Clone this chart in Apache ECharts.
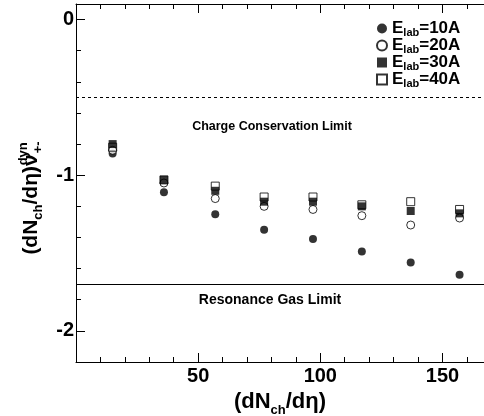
<!DOCTYPE html>
<html>
<head>
<meta charset="utf-8">
<script src="https://cdn.jsdelivr.net/npm/echarts@6/dist/echarts.min.js"></script>
<style>
html, body { margin: 0; padding: 0; background: #fff; }
#chart { width: 484px; height: 416px; }
</style>
</head>
<body>
<div id="chart"></div>
<script>
// dN_ch/deta bins
var xValues = [15, 36, 57, 77, 97, 117, 137, 157];
var e10 = [-0.86, -1.11, -1.25, -1.35, -1.41, -1.49, -1.56, -1.64];
var e20 = [-0.84, -1.05, -1.15, -1.20, -1.22, -1.26, -1.32, -1.275];
var e30 = [-0.80, -1.03, -1.10, -1.17, -1.17, -1.20, -1.23, -1.245];
var e40 = [-0.82, -1.03, -1.07, -1.14, -1.14, -1.19, -1.17, -1.22];
var chargeLimit = -0.5;
var resonanceLimit = -1.7;
var xMajor = [50, 100, 150];
var yMajor = [-2, -1, 0];

var font = 'Liberation Sans, Arial, sans-serif';

function pairs(ys) {
    return xValues.map(function (x, i) { return [x, ys[i]]; });
}

var richX = {
    m: { fontFamily: font, fontWeight: 'bold', fontSize: 22, verticalAlign: 'top', padding: [3, 0, 0, 0], color: '#000' },
    s: { fontFamily: font, fontWeight: 'bold', fontSize: 13, verticalAlign: 'top', padding: [16, 0, 0, 0], color: '#000' }
};
var richY = {
    m: { fontFamily: font, fontWeight: 'bold', fontSize: 21, verticalAlign: 'top', padding: [3, 0, 0, 0], color: '#000' },
    s: { fontFamily: font, fontWeight: 'bold', fontSize: 13, verticalAlign: 'top', padding: [15, 0, 0, 0], color: '#000' },
    // superscript drawn over the following subscript (zero advance)
    p: { fontFamily: font, fontWeight: 'bold', fontSize: 13, verticalAlign: 'top', padding: [0, 0, 0, 0], width: 1, color: '#000' }
};
var richLegend = {
    m: { fontFamily: font, fontWeight: 'bold', fontSize: 17, verticalAlign: 'top', padding: [1, 0, 0, 0], color: '#000' },
    s: { fontFamily: font, fontWeight: 'bold', fontSize: 11, verticalAlign: 'top', padding: [8, 0, 0, 0], color: '#000' }
};

var myChart = echarts.init(document.getElementById('chart'));

var tickStyle = { color: '#000', width: 1 };

myChart.setOption({
    animation: false,
    backgroundColor: '#fff',
    grid: { left: 76, right: 0, top: 4, bottom: 54, outerBoundsMode: 'none' },
    xAxis: [{
        type: 'value', position: 'bottom', min: 0, max: 167, interval: 10,
        axisLine: { onZero: false, lineStyle: { color: '#000', width: 1 } },
        axisTick: { inside: true, length: 5, lineStyle: tickStyle },
        axisLabel: {
            fontFamily: font, fontWeight: 'bold', fontSize: 20, color: '#000', margin: 4,
            formatter: function (v) { return xMajor.indexOf(v) >= 0 ? String(v) : ''; }
        },
        splitLine: { show: false },
        name: '{m|(dN}{s|ch}{m|/dη)}',
        nameLocation: 'middle', nameGap: 19,
        nameTextStyle: { rich: richX }
    }, {
        type: 'value', position: 'bottom', min: 0, max: 167,
        axisLine: { show: false, onZero: false },
        axisTick: { inside: true, length: 9, lineStyle: tickStyle, customValues: xMajor },
        axisLabel: { show: false },
        splitLine: { show: false }
    }, {
        type: 'value', position: 'top', min: 0, max: 167, interval: 10,
        axisLine: { onZero: false, lineStyle: { color: '#000', width: 1 } },
        axisTick: { inside: true, length: 5, lineStyle: tickStyle },
        axisLabel: { show: false },
        splitLine: { show: false }
    }, {
        type: 'value', position: 'top', min: 0, max: 167,
        axisLine: { show: false, onZero: false },
        axisTick: { inside: true, length: 9, lineStyle: tickStyle, customValues: xMajor },
        axisLabel: { show: false },
        splitLine: { show: false }
    }],
    yAxis: [{
        type: 'value', position: 'left', min: -2.2, max: 0.1, interval: 0.2,
        axisLine: { show: true, onZero: false, lineStyle: { color: '#000', width: 1 } },
        axisTick: { show: true, inside: true, length: 5, lineStyle: tickStyle },
        axisLabel: {
            fontFamily: font, fontWeight: 'bold', fontSize: 20, color: '#000', margin: 2,
            formatter: function (v) {
                var r = Math.round(v);
                return Math.abs(v - r) < 1e-6 ? String(r) : '';
            }
        },
        splitLine: { show: false },
        name: '{m|(dN}{s|ch}{m|/dη)ν}{p|dyn}{s|+-}',
        nameLocation: 'middle', nameGap: 30, nameRotate: 90,
        nameTextStyle: { rich: richY, padding: [0, 30, 0, 0] }
    }, {
        type: 'value', position: 'left', min: -2.2, max: 0.1,
        axisLine: { show: false, onZero: false },
        axisTick: { show: true, inside: true, length: 9, lineStyle: tickStyle, customValues: yMajor },
        axisLabel: { show: false },
        splitLine: { show: false }
    }],
    legend: {
        orient: 'vertical', left: 371, top: 15, itemGap: -1,
        itemWidth: 10, itemHeight: 10,
        data: ['10A', '20A', '30A', '40A'],
        formatter: function (name) { return '{m|E}{s|lab}{m|=' + name + '}'; },
        textStyle: { rich: richLegend }
    },
    graphic: [{
        type: 'text', x: 272, y: 127,
        style: { text: 'Charge Conservation Limit', font: 'bold 12.5px ' + font, fill: '#000', align: 'center', verticalAlign: 'middle' }
    }, {
        type: 'text', x: 270, y: 300,
        style: { text: 'Resonance Gas Limit', font: 'bold 14px ' + font, fill: '#000', align: 'center', verticalAlign: 'middle' }
    }],
    series: [{
        name: '10A', type: 'scatter', data: pairs(e10),
        symbol: 'circle', symbolSize: 8,
        itemStyle: { color: '#000' },
        markLine: {
            silent: true, symbol: 'none', label: { show: false },
            data: [
                { yAxis: chargeLimit, lineStyle: { type: [3, 3], color: '#000', width: 1 } },
                { yAxis: resonanceLimit, lineStyle: { type: 'solid', color: '#000', width: 1 } }
            ]
        }
    }, {
        name: '20A', type: 'scatter', data: pairs(e20),
        symbol: 'circle', symbolSize: 8,
        itemStyle: { color: '#fff', borderColor: '#000', borderWidth: 1 }
    }, {
        name: '30A', type: 'scatter', data: pairs(e30),
        symbol: 'rect', symbolSize: 8,
        itemStyle: { color: '#000' }
    }, {
        name: '40A', type: 'scatter', data: pairs(e40),
        symbol: 'rect', symbolSize: 8,
        itemStyle: { color: 'rgba(0,0,0,0)', borderColor: '#000', borderWidth: 1 }
    }]
});
</script>
</body>
</html>
